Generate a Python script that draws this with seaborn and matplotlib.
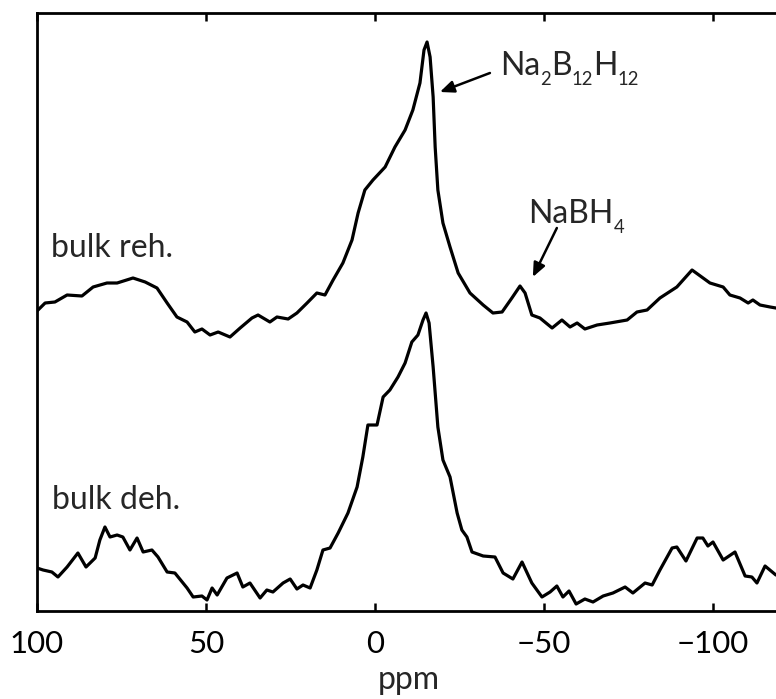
import numpy as np
import pandas as pd
import matplotlib
matplotlib.use("Agg")
import matplotlib.pyplot as plt
import matplotlib.transforms as mtransforms
import seaborn as sns

# ---- data (ppm, intensity in arbitrary units) ----
reh_ppm = [100.0, 97.6, 94.7, 91.1, 86.7, 83.4, 79.3, 76.3, 71.6, 68.0,
           64.5, 61.5, 58.6, 55.6, 53.3, 51.2, 48.8, 46.4, 42.9, 39.9,
           36.4, 34.6, 31.1, 29.0, 25.7, 23.1, 20.1, 17.2, 14.8, 12.4,
           9.5, 6.8, 5.0, 3.0, 0.6, -3.0, -5.9, -8.9, -11.2, -13.3,
           -14.5, -15.4, -16.3, -17.2, -17.8, -18.6, -20.1, -22.2, -24.6, -28.1,
           -32.0, -34.9, -37.6, -40.5, -42.9, -44.4, -46.4, -48.8, -52.4, -55.3,
           -57.7, -59.8, -62.1, -65.7, -69.5, -74.6, -77.5, -80.5, -84.3, -89.3,
           -93.8, -99.1, -103.0, -105.0, -108.0, -110.4, -111.8, -113.9, -116.9, -118.6,
           -120.0]
reh_int = [300, 308, 309, 316, 315, 324, 328, 328, 333, 329,
           323, 308, 294, 289, 279, 282, 276, 279, 274, 283,
           293, 296, 289, 294, 292, 298, 308, 318, 316, 331,
           348, 371, 398, 421, 431, 444, 464, 481, 501, 528,
           561, 569, 554, 514, 464, 421, 388, 364, 338, 318,
           306, 298, 299, 313, 325, 318, 296, 293, 283, 291,
           284, 288, 282, 286, 288, 291, 299, 301, 313, 324,
           341, 328, 324, 316, 313, 308, 311, 306, 304, 303,
           302]

deh_ppm = [100.0, 98.2, 95.6, 93.8, 91.1, 87.9, 85.5, 82.8, 81.4, 79.9,
           78.4, 76.3, 74.6, 72.5, 70.4, 68.6, 66.0, 64.2, 61.5, 59.2,
           55.6, 53.8, 51.2, 49.7, 48.2, 46.7, 43.8, 40.8, 39.1, 37.0,
           34.0, 32.0, 30.2, 27.2, 25.1, 23.1, 21.3, 19.2, 17.2, 15.4,
           13.3, 10.9, 8.0, 5.3, 3.6, 2.1, -0.6, -2.4, -4.4, -6.8,
           -8.9, -10.9, -12.7, -14.2, -15.1, -16.0, -17.2, -18.6, -20.1, -22.2,
           -24.3, -25.7, -27.2, -28.7, -32.0, -35.5, -37.9, -40.8, -43.5, -46.4,
           -49.4, -51.8, -53.8, -55.6, -57.4, -59.5, -62.1, -64.5, -67.5, -70.4,
           -74.0, -76.3, -79.9, -82.0, -84.3, -87.9, -89.3, -92.0, -95.3, -97.0,
           -98.5, -100.0, -103.0, -106.5, -109.5, -111.5, -113.0, -115.4, -118.6, -120.0]
deh_int = [43, 41, 39, 34, 44, 58, 44, 53, 71, 84,
           74, 76, 74, 61, 73, 59, 61, 54, 39, 38,
           23, 14, 15, 11, 23, 16, 33, 38, 24, 28,
           13, 21, 19, 28, 32, 22, 26, 23, 41, 61,
           63, 78, 98, 124, 154, 186, 186, 214, 221, 234,
           248, 269, 276, 291, 298, 288, 244, 184, 151, 134,
           98, 81, 74, 59, 55, 54, 38, 32, 49, 28,
           14, 19, 25, 14, 20, 7, 12, 9, 15, 18,
           24, 18, 28, 26, 41, 63, 64, 50, 73, 73,
           65, 69, 51, 59, 35, 34, 28, 45, 36, 38]

sample_labels = ["bulk reh.", "bulk deh."]
x_ticks = [100, 50, 0, -50, -100]
# chemical formula runs: (text, is_subscript)
na2b12h12_runs = [("Na", False), ("2", True), ("B", False), ("12", True), ("H", False), ("12", True)]
nabh4_runs = [("NaBH", False), ("4", True)]

df = pd.concat([
    pd.DataFrame({"ppm": reh_ppm, "intensity": reh_int, "sample": sample_labels[0]}),
    pd.DataFrame({"ppm": deh_ppm, "intensity": deh_int, "sample": sample_labels[1]}),
], ignore_index=True)

# ---- style ----
sns.set_theme(style="white")
plt.rcParams["font.family"] = ["Lato", "DejaVu Sans"]

W, H = 776, 699
fig = plt.figure(figsize=(W / 100, H / 100), dpi=100)
ax = fig.add_axes([37 / W, (H - 611) / H, (780.6 - 37) / W, 598 / H])

sns.lineplot(data=df, x="ppm", y="intensity", units="sample", estimator=None,
             sort=False, color="black", linewidth=2.3, ax=ax, legend=False,
             solid_joinstyle="round", solid_capstyle="round")

ax.set_xlim(100, -120)
ax.set_ylim(0, 598)
ax.set_xticks(x_ticks)
ax.set_xticklabels([f"{t}".replace("-", "\u2212") for t in x_ticks])
ax.set_yticks([])
ax.set_ylabel("")
ax.set_xlabel("ppm", fontsize=23, labelpad=5)
ax.tick_params(axis="x", direction="in", length=6, width=1.8, top=True,
               bottom=True, labelsize=22.5, pad=14, colors="black")
for s in ax.spines.values():
    s.set_linewidth(2.0)
    s.set_color("black")
    s.set_visible(True)

ax.text(95.9, 354, sample_labels[0], fontsize=23, ha="left", va="baseline")
ax.text(95.6, 102, sample_labels[1], fontsize=23, ha="left", va="baseline")

renderer = fig.canvas.get_renderer()


def formula(x, y, runs, size, sub_ratio=0.58, sub_drop=7.5):
    trans = ax.transData
    for txt, sub in runs:
        fs = size * sub_ratio if sub else size
        t = ax.text(x, y, txt, fontsize=fs, ha="left", va="baseline",
                    transform=mtransforms.offset_copy(trans, fig=fig, x=0,
                                                      y=-sub_drop if sub else 0,
                                                      units="points"))
        bb = t.get_window_extent(renderer=renderer)
        trans = mtransforms.offset_copy(trans, fig=fig, x=bb.width, y=0, units="dots")
    return


formula(-37.0, 536, na2b12h12_runs, 23)
formula(-45.3, 388, nabh4_runs, 23)

arrow = dict(arrowstyle="-|>,head_length=0.7,head_width=0.3", color="black",
             lw=1.8, shrinkA=0, shrinkB=0)
ax.annotate("", xy=(-19.2, 519), xytext=(-34.0, 538), arrowprops=arrow)
ax.annotate("", xy=(-46.7, 334), xytext=(-53.8, 383), arrowprops=arrow)

fig.savefig("out.png", dpi=100)
